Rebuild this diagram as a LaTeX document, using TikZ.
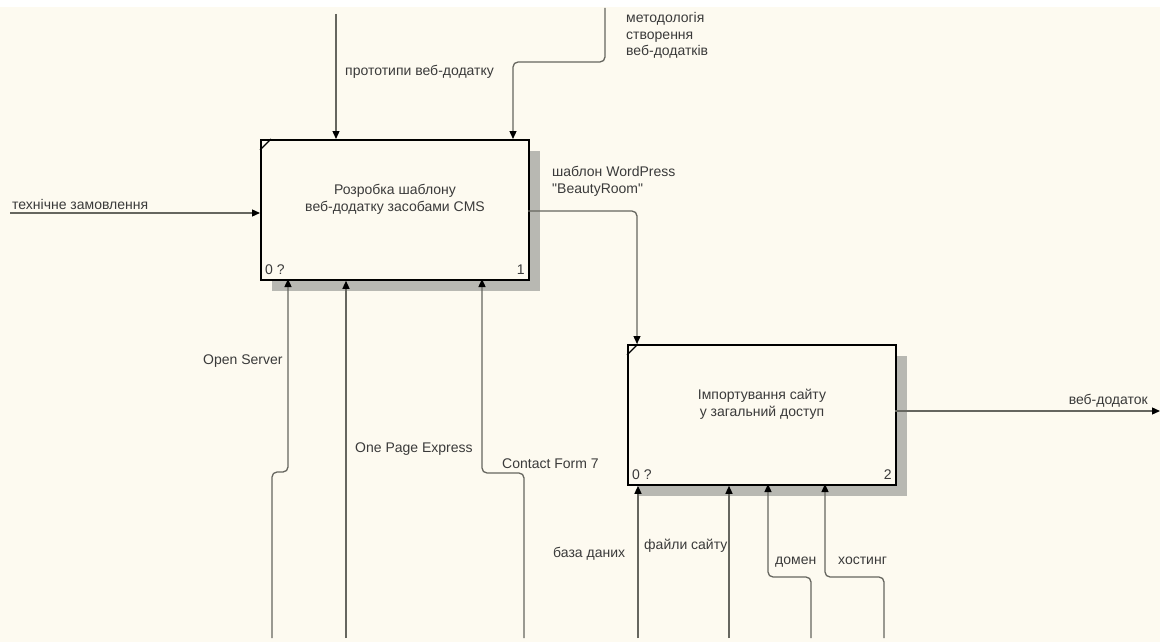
\documentclass[tikz,border=0pt]{standalone}
\usepackage{fontspec}
\setmainfont{Liberation Sans}
\usetikzlibrary{arrows.meta}
\definecolor{paper}{HTML}{FDFAF0}
\definecolor{ink}{HTML}{3A3A3A}
\definecolor{wire}{HTML}{66665F}
\definecolor{shade}{HTML}{B8B8B2}
\begin{document}
\begin{tikzpicture}[x=1pt,y=-1pt,
  every node/.style={font=\fontsize{14}{16.5}\selectfont, text=ink, inner sep=0pt},
  actbox/.style={draw=black, line width=1.8pt, fill=paper, minimum width=268pt, minimum height=140pt, anchor=north west},
  shadowbox/.style={fill=shade, draw=none, minimum width=268pt, minimum height=140pt, anchor=north west},
  flow/.style={draw=wire, line width=1.3pt, rounded corners=5pt, -{Triangle[length=8pt,width=7pt,color=black]}},
  lbl/.style={anchor=base west, align=left},
  corner/.style={draw=black, line width=1.2pt}
]
% canvas
\useasboundingbox (0,0) rectangle (1160,642);
\fill[paper] (0,0) rectangle (1160,642);
\fill[white] (0,0) rectangle (1160,7);

% activity boxes with drop shadows
\node[shadowbox] (S1) at (272,151) {};
\node[actbox] (A1) at (260,139) {};
\node[shadowbox] (S2) at (639,356) {};
\node[actbox] (A2) at (627,344) {};

\draw[corner] ([yshift=-11pt]A1.north west) -- ([xshift=11pt]A1.north west);
\draw[corner] ([yshift=-11pt]A2.north west) -- ([xshift=11pt]A2.north west);

% multi-line nodes: the base anchor sits on the last line
\node[anchor=base, align=center] (A1t) at (395,211) {Розробка шаблону\\веб-додатку засобами CMS};
\node[anchor=base, align=center] (A2t) at (762,416) {Імпортування сайту\\у загальний доступ};

\node[anchor=base west] (A1n) at ([xshift=5pt,yshift=6pt]A1.south west) {0 ?};
\node[anchor=base east] (A1k) at ([xshift=-5pt,yshift=6pt]A1.south east) {1};
\node[anchor=base west] (A2n) at ([xshift=5pt,yshift=6pt]A2.south west) {0 ?};
\node[anchor=base east] (A2k) at ([xshift=-5pt,yshift=6pt]A2.south east) {2};

% free ends of the connectors
\coordinate (c1) at (336,14);
\coordinate (c2) at (605,8);
\coordinate (i1) at (10,213);
\coordinate (o2) at (1160,411);
\coordinate (m1) at (272,638);
\coordinate (m2) at (346,638);
\coordinate (m3) at (524,638);
\coordinate (n1) at (638,638);
\coordinate (n2) at (729,638);
\coordinate (n3) at (811,638);
\coordinate (n4) at (884,638);

% controls
\draw[flow] (c1) -- (c1 |- A1.north);
\draw[flow] (c2) -- (605,62) -- (513,62) -- (513,139);
% input
\draw[flow] (i1) -- (i1 -| A1.west);
% output of box 1 into box 2
\draw[flow] (528,211) -- (637,211) -- (637,344);
% output of box 2
\draw[flow] (895,411) -- (o2);
% mechanisms, box 1
\draw[flow] (m1) -- (272,472) -- (288,472) -- (288,279);
\draw[flow] (m2) -- (m2 |- A1.south);
\draw[flow] (m3) -- (524,473) -- (482,473) -- (482,279);
% mechanisms, box 2
\draw[flow] (n1) -- (n1 |- A2.south);
\draw[flow] (n2) -- (n2 |- A2.south);
\draw[flow] (n3) -- (811,577) -- (768,577) -- (768,484);
\draw[flow] (n4) -- (884,577) -- (825,577) -- (825,484);

% arrow labels
\node[lbl] (t1) at (12,209) {технічне замовлення};
\node[lbl] (t2) at (345,76) {прототипи веб-додатку};
\node[lbl] (t3) at (626,56) {методологія\\створення\\веб-додатків};
\node[lbl] (t4) at (552,193) {шаблон WordPress\\\textquotedbl BeautyRoom\textquotedbl};
\node[anchor=base east] (t5) at (1148,404) {веб-додаток};
\node[lbl] (t6) at (203,364) {Open Server};
\node[lbl] (t7) at (355,452) {One Page Express};
\node[lbl] (t8) at (502,468) {Contact Form 7};
\node[lbl] (t9) at (553,557) {база даних};
\node[lbl] (t10) at (644,549) {файли сайту};
\node[lbl] (t11) at (775,564) {домен};
\node[lbl] (t12) at (838,564) {хостинг};
\end{tikzpicture}
\end{document}
